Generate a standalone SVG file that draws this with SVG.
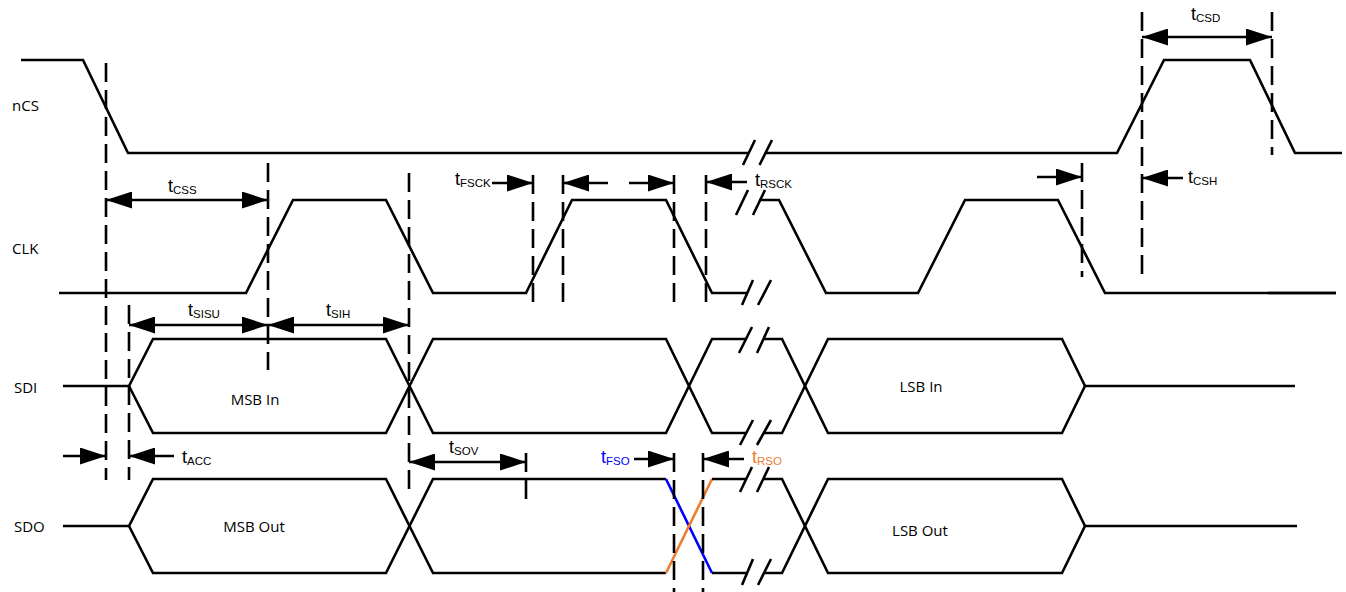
<svg xmlns="http://www.w3.org/2000/svg" width="1346" height="592" viewBox="0 0 1346 592">
<style>
.sig{fill:none;stroke:#000;stroke-width:2.6;stroke-linejoin:miter}
.brk{fill:none;stroke:#000;stroke-width:2.6}
.dash{fill:none;stroke:#000;stroke-width:2.6;stroke-dasharray:19 8}
.arr{fill:none;stroke:#000;stroke-width:2.4}
.ab{marker-start:url(#ah);marker-end:url(#ah)}
.ae{marker-end:url(#ah)}
.name{font-family:"Open Sans","Liberation Sans",sans-serif;font-size:15px;fill:#000}
.tl{font-family:"Liberation Sans",Arial,sans-serif;font-size:18px;fill:#000}
.sub{font-size:11.5px}
</style>
<defs>
<marker id="ah" viewBox="0 0 26 17" refX="26" refY="8.5" markerWidth="26" markerHeight="17" markerUnits="userSpaceOnUse" orient="auto-start-reverse">
<path d="M0,0 L26,8.5 L0,17 Z" fill="#000"/>
</marker>
</defs>
<rect width="1346" height="592" fill="#fff"/>

<g id="labels">
<text class="name" x="12" y="111">nCS</text>
<text class="name" x="12" y="254">CLK</text>
<text class="name" x="14" y="393">SDI</text>
<text class="name" x="14" y="532">SDO</text>
</g>

<g id="nCS">
<path class="sig" d="M21,60 H83 L128,153 H749 M765.5,153 H1117 L1164,60 H1250 L1295,153 H1342"/>
<path class="brk" d="M743,165 L755,140 M759.5,165 L772,140"/>
</g>

<g id="CLK">
<path class="sig" d="M59,293 H246 L293,200 H386 L433,293 H526 L572,200 H666 L712,293 H747.5 M759,200 H779 L826,293 H918 L965,200 H1058 L1105,293 H1336"/>
<path class="sig" stroke-width="3.2" d="M1268,293 H1336"/>
<path class="brk" d="M736,215 L748,190 M753,215 L765,190 M742,305 L753,280 M758,305 L771,280"/>
</g>

<g id="SDI">
<path class="sig" d="M63,386 H129 L153,339 H386 L433,433 H666 L712,339 H745.5"/>
<path class="sig" d="M129,386 L153,433 H386 L433,339 H666 L712,433 H746.5"/>
<path class="sig" d="M763,339 H782 L828,433 H1062 L1085,386 H1295"/>
<path class="sig" d="M764,433 H782 L828,339 H1062 L1085,386"/>
<path class="brk" d="M739,353 L752,327 M757,353 L769,327 M740,445 L753,420 M757,445 L771,420"/>
<text class="name" x="255" y="405" text-anchor="middle">MSB In</text>
<text class="name" x="921" y="392" text-anchor="middle">LSB In</text>
</g>

<g id="SDO">
<path class="sig" d="M63,526 H129 L153,479 H386 L433,573 H666"/>
<path class="sig" d="M129,526 L153,573 H386 L433,479 H666"/>
<path fill="none" stroke="#0000FF" stroke-width="2.6" d="M666,479 L712,573"/>
<path fill="none" stroke="#ED7D31" stroke-width="2.6" d="M666,573 L712,479"/>
<path class="sig" d="M712,479 H746 M712,573 H747.5"/>
<path class="sig" d="M763,479 H782 L828,573 H1062 L1085,526 H1297"/>
<path class="sig" d="M764.5,573 H782 L828,479 H1062 L1085,526"/>
<path class="brk" d="M740,492 L752,467 M757,492 L769,467 M742,585 L753,559 M758,585 L771,559"/>
<text class="name" x="254" y="532" text-anchor="middle">MSB Out</text>
<text class="name" x="920" y="536" text-anchor="middle">LSB Out</text>
</g>

<g id="connectors">
<path class="dash" d="M106,63 V480"/>
<path class="dash" d="M268,163 V370"/>
<path class="dash" d="M409,173 V492"/>
<path class="dash" d="M129,305 V480"/>
<path class="dash" d="M533,175 V305"/>
<path class="dash" d="M563,175 V305"/>
<path class="dash" d="M674,175 V305"/>
<path class="dash" d="M706,175 V305"/>
<path class="dash" d="M526,453 V503"/>
<path class="dash" d="M674,453 V592"/>
<path class="dash" d="M703,453 V592"/>
<path class="dash" d="M1082,163 V277"/>
<path class="dash" d="M1142,12 V278"/>
<path class="dash" d="M1272,12 V155"/>

<path class="arr ab" d="M106,200 H268"/>
<path class="arr ab" d="M129,325 H268"/>
<path class="arr ab" d="M268,325 H409"/>
<path class="arr ae" d="M63,456 H106"/>
<path class="arr ae" d="M174,456 H129"/>
<path class="arr ab" d="M409,462 H526"/>
<path class="arr ae" d="M492,183 H533"/>
<path class="arr ae" d="M608,183 H563"/>
<path class="arr ae" d="M629,183 H674"/>
<path class="arr ae" d="M747,182 H706"/>
<path class="arr ae" d="M1037,177 H1082"/>
<path class="arr ae" d="M1183,178 H1142"/>
<path class="arr ab" d="M1142,37 H1272"/>
<path class="arr ae" d="M634,459 H674"/>
<path class="arr ae" d="M744,459 H703"/>
</g>

<g id="timing-labels">
<text class="tl" x="168" y="192">t<tspan class="sub" dy="2">CSS</tspan></text>
<text class="tl" x="188" y="316">t<tspan class="sub" dy="2">SISU</tspan></text>
<text class="tl" x="326" y="316">t<tspan class="sub" dy="2">SIH</tspan></text>
<text class="tl" x="182" y="463">t<tspan class="sub" dy="2">ACC</tspan></text>
<text class="tl" x="455" y="185">t<tspan class="sub" dy="2">FSCK</tspan></text>
<text class="tl" x="755" y="186">t<tspan class="sub" dy="2">RSCK</tspan></text>
<text class="tl" x="1188" y="183">t<tspan class="sub" dy="2">CSH</tspan></text>
<text class="tl" x="1191" y="20">t<tspan class="sub" dy="2">CSD</tspan></text>
<text class="tl" x="449" y="453">t<tspan class="sub" dy="2">SOV</tspan></text>
<text class="tl" x="601" y="463" style="fill:#0000FF">t<tspan class="sub" dy="2">FSO</tspan></text>
<text class="tl" x="752" y="463" style="fill:#ED7D31">t<tspan class="sub" dy="2">RSO</tspan></text>
</g>
</svg>
